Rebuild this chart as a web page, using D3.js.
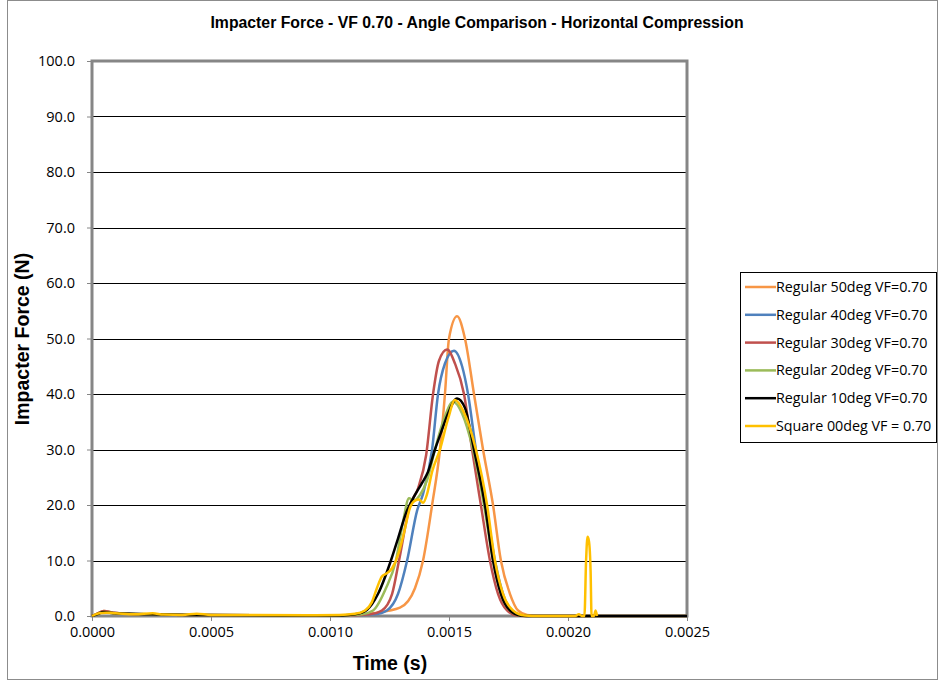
<!DOCTYPE html>
<html>
<head>
<meta charset="utf-8">
<script src="https://cdn.jsdelivr.net/npm/d3@7"></script>
<style>
  body { margin: 0; background: #fff; }
  svg { display: block; }
  .tick text { font-family: "Open Sans", "DejaVu Sans", sans-serif; font-size: 14.5px; fill: #000; }
  .axis path.domain { display: none; }
  .axis line { stroke: #868686; }
</style>
</head>
<body>
<div id="chart"></div>
<script>
const TITLE = 'Impacter Force - VF 0.70 - Angle Comparison - Horizontal Compression';
const X_LABEL = 'Time (s)';
const Y_LABEL = 'Impacter Force (N)';

const yTicks = [0, 10, 20, 30, 40, 50, 60, 70, 80, 90, 100];
const xTicks = [0, 0.0005, 0.0010, 0.0015, 0.0020, 0.0025];

const seriesNames = [
  'Regular 50deg VF=0.70',
  'Regular 40deg VF=0.70',
  'Regular 30deg VF=0.70',
  'Regular 20deg VF=0.70',
  'Regular 10deg VF=0.70',
  'Square 00deg VF = 0.70'
];
const seriesColors = ['#F79646', '#4F81BD', '#C0504D', '#9BBB59', '#000000', '#FFC000'];

// [time (s), force (N)]
const regular50 = [
  [0, 0], [0.00002, 0.4], [0.00005, 0.9], [0.00009, 0.6], [0.00015, 0.4], [0.00025, 0.3],
  [0.0004, 0.2], [0.0008, 0.1], [0.00110, 0.1], [0.001181, 0.5], [0.001294, 1.5],
  [0.001357, 5], [0.001391, 10], [0.001429, 20], [0.001462, 30], [0.001483, 40],
  [0.001500, 50], [0.001534, 54.0], [0.001567, 50], [0.001605, 40], [0.001643, 30],
  [0.001685, 20], [0.001718, 10], [0.001756, 4], [0.001790, 1], [0.001828, 0.2],
  [0.001882, 0], [0.0025, 0]
];
const regular40 = [
  [0, 0], [0.00002, 0.3], [0.00005, 0.8], [0.00009, 0.6], [0.00015, 0.4], [0.00025, 0.3],
  [0.0004, 0.2], [0.0008, 0.1], [0.00108, 0.1], [0.001189, 0.3], [0.001239, 1],
  [0.001286, 4], [0.001324, 10], [0.001366, 19], [0.001391, 22], [0.001429, 30],
  [0.001454, 40], [0.001483, 45.5], [0.001521, 47.8], [0.001555, 45], [0.001580, 40],
  [0.001613, 30], [0.001655, 20], [0.001693, 10], [0.001735, 3], [0.001765, 1],
  [0.001807, 0.1], [0.00186, 0], [0.0025, 0]
];
const regular30 = [
  [0, 0], [0.00002, 0.4], [0.00005, 0.9], [0.00009, 0.6], [0.00015, 0.4], [0.00025, 0.3],
  [0.0004, 0.2], [0.0008, 0.1], [0.00108, 0.1], [0.001168, 0.3], [0.001218, 1],
  [0.001261, 4], [0.001290, 10], [0.001336, 20], [0.001370, 23], [0.001404, 29],
  [0.001433, 40], [0.001458, 46], [0.001492, 48.0], [0.001525, 45.5], [0.001563, 40],
  [0.001597, 30], [0.001634, 20], [0.001672, 10], [0.001706, 4], [0.001744, 1],
  [0.001786, 0.1], [0.00184, 0], [0.0025, 0]
];
const regular20 = [
  [0, 0], [0.00002, 0.3], [0.00005, 0.7], [0.00009, 0.5], [0.00015, 0.4], [0.00025, 0.3],
  [0.0004, 0.2], [0.0008, 0.1], [0.00106, 0.1], [0.001134, 0.3], [0.001181, 1],
  [0.001235, 5], [0.001277, 10], [0.001307, 17], [0.001332, 21.2], [0.001353, 20.8],
  [0.001378, 21.8], [0.001408, 24.5], [0.001441, 30], [0.001479, 35.5], [0.001517, 38.6],
  [0.001555, 36.5], [0.001601, 30], [0.001647, 20], [0.001685, 10], [0.001718, 4],
  [0.001756, 1], [0.001798, 0.1], [0.00185, 0], [0.0025, 0]
];
const regular10 = [
  [0, 0], [0.00002, 0.3], [0.00005, 0.7], [0.00009, 0.5], [0.00015, 0.4], [0.00025, 0.3],
  [0.0004, 0.2], [0.0008, 0.1], [0.00105, 0.1], [0.001105, 0.3], [0.001155, 1.1],
  [0.001202, 4], [0.001256, 10], [0.001286, 14], [0.001319, 18.5], [0.001353, 21.5],
  [0.001387, 24], [0.001412, 26], [0.001441, 30], [0.001466, 33], [0.001496, 36.5],
  [0.001534, 39.2], [0.001567, 37.5], [0.001605, 30], [0.001651, 20], [0.001685, 10],
  [0.001718, 4], [0.001756, 1], [0.001798, 0.1], [0.00185, 0], [0.0025, 0]
];
const square00 = [
  [0, 0], [0.00003, 0.5], [0.00006, 0.6], [0.00010, 0.5], [0.00018, 0.3], [0.000255, 0.5],
  [0.00030, 0.25], [0.00038, 0.2], [0.00044, 0.4], [0.00050, 0.2], [0.0009, 0.15],
  [0.00104, 0.2], [0.001105, 0.4], [0.001147, 1.0], [0.001176, 2.5], [0.001197, 5],
  [0.001218, 7.1], [0.001235, 7.6], [0.001261, 8.6], [0.001286, 11], [0.001311, 15],
  [0.001336, 19.5], [0.001357, 20.8], [0.001374, 21], [0.001391, 20.4], [0.001408, 22],
  [0.001429, 26], [0.001462, 30], [0.001496, 35.5], [0.001525, 38.9], [0.001559, 37],
  [0.001613, 30], [0.001660, 20], [0.001693, 10], [0.001727, 4], [0.001769, 1],
  [0.001819, 0.1], [0.00188, 0], [0.00203, 0], [0.002046, 0.3], [0.002058, 0],
  [0.002069, 0], [0.002076, 10], [0.002082, 14.3], [0.002088, 13.5], [0.002095, 8],
  [0.002099, 0], [0.002109, 0], [0.002116, 1.0], [0.002122, 0]
];

const seriesData = [regular50, regular40, regular30, regular20, regular10, square00];

const width = 938;
const height = 680;

const svg = d3.select('#chart')
  .append('svg')
  .attr('width', width)
  .attr('height', height);

// chart area frame
svg.append('rect')
  .attr('x', 7.5)
  .attr('y', 0.5)
  .attr('width', width - 8)
  .attr('height', height - 1)
  .attr('fill', '#fff')
  .attr('stroke', '#8c8c8c')
  .attr('stroke-width', 1);

const x = d3.scaleLinear().domain([0, 0.0025]).range([92, 687]);
const y = d3.scaleLinear().domain([0, 100]).range([616, 61]);

// gridlines
svg.append('g')
  .selectAll('line')
  .data(yTicks.filter(d => d > 0 && d < 100))
  .join('line')
  .attr('x1', x(0))
  .attr('x2', x(0.0025))
  .attr('y1', d => Math.round(y(d)) + 0.5)
  .attr('y2', d => Math.round(y(d)) + 0.5)
  .attr('stroke', '#000')
  .attr('stroke-width', 1);

// axes (tick marks + labels)
svg.append('g')
  .attr('class', 'axis')
  .attr('transform', `translate(${x(0)},0)`)
  .call(d3.axisLeft(y).tickValues(yTicks).tickFormat(d3.format('.1f')).tickSize(5).tickPadding(12));

svg.append('g')
  .attr('class', 'axis')
  .attr('transform', `translate(0,${y(0)})`)
  .call(d3.axisBottom(x).tickValues(xTicks).tickFormat(d3.format('.4f')).tickSize(5).tickPadding(6));

// plot border (grey, thick)
svg.append('rect')
  .attr('x', x(0))
  .attr('y', y(100))
  .attr('width', x(0.0025) - x(0))
  .attr('height', y(0) - y(100))
  .attr('fill', 'none')
  .attr('stroke', '#868686')
  .attr('stroke-width', 3);

const line = d3.line()
  .x(d => x(d[0]))
  .y(d => y(d[1]))
  .curve(d3.curveMonotoneX);

svg.append('g')
  .selectAll('path')
  .data(seriesData)
  .join('path')
  .attr('d', line)
  .attr('fill', 'none')
  .attr('stroke', (d, i) => seriesColors[i])
  .attr('stroke-width', 2.5)
  .attr('stroke-linejoin', 'round');

// title + axis labels
svg.append('text')
  .attr('x', 477)
  .attr('y', 28)
  .attr('text-anchor', 'middle')
  .style('font-family', 'Liberation Sans, Arial, sans-serif')
  .style('font-weight', 'bold')
  .style('font-size', '15.8px')
  .text(TITLE);

svg.append('text')
  .attr('x', 390)
  .attr('y', 670)
  .attr('text-anchor', 'middle')
  .style('font-family', 'Liberation Sans, Arial, sans-serif')
  .style('font-weight', 'bold')
  .style('font-size', '19.5px')
  .text(X_LABEL);

svg.append('text')
  .attr('transform', 'translate(29,339) rotate(-90)')
  .attr('text-anchor', 'middle')
  .style('font-family', 'Liberation Sans, Arial, sans-serif')
  .style('font-weight', 'bold')
  .style('font-size', '19.5px')
  .text(Y_LABEL);

// legend
const legend = svg.append('g');
legend.append('rect')
  .attr('x', 740.5)
  .attr('y', 272.5)
  .attr('width', 196)
  .attr('height', 170)
  .attr('fill', '#fff')
  .attr('stroke', '#000')
  .attr('stroke-width', 1);

const items = legend.selectAll('g.item')
  .data(seriesNames)
  .join('g')
  .attr('class', 'item')
  .attr('transform', (d, i) => `translate(745,${287 + i * 27.8})`);

items.append('line')
  .attr('x1', 0)
  .attr('x2', 31)
  .attr('stroke', (d, i) => seriesColors[i])
  .attr('stroke-width', 2.5);

items.append('text')
  .attr('x', 31)
  .attr('dy', '0.35em')
  .style('font-family', 'Open Sans, DejaVu Sans, sans-serif')
  .style('font-size', '14.3px')
  .text(d => d);
</script>
</body>
</html>
